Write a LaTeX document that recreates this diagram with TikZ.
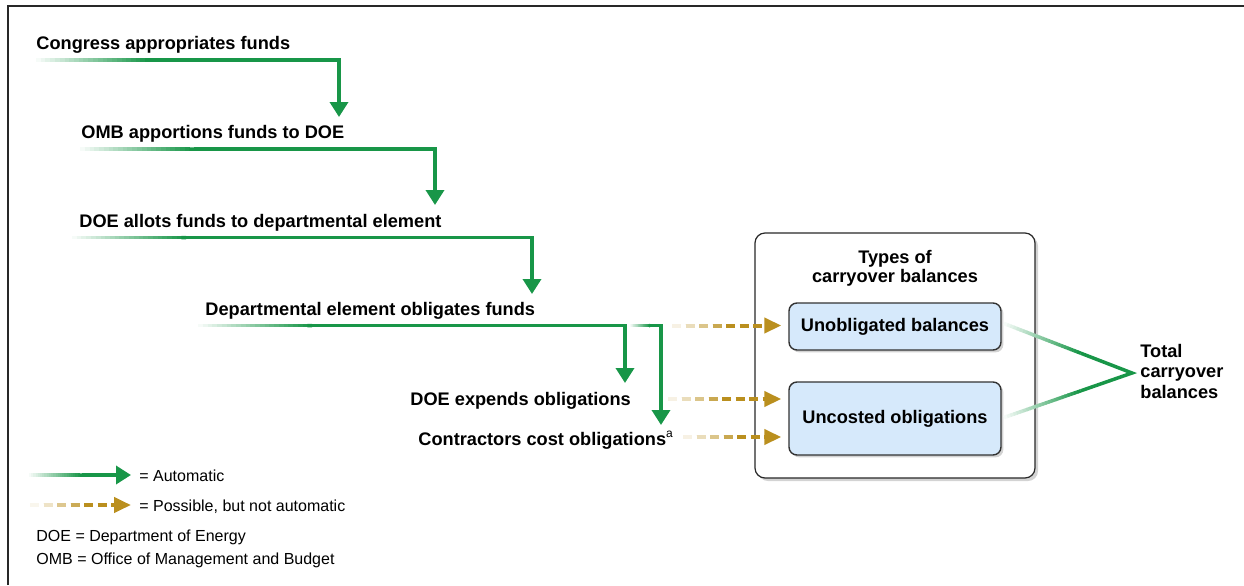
\documentclass[tikz,border=0pt]{standalone}
\usepackage{fontspec}
\setmainfont{Liberation Sans}
\usetikzlibrary{arrows.meta,calc,shadows}
\definecolor{ggreen}{RGB}{24,150,72}
\definecolor{ggold}{RGB}{186,143,30}
\definecolor{lblue}{RGB}{214,233,251}
\definecolor{frame}{RGB}{40,40,40}
% fading line drawn as short segments: #1 start, #2 end, #3 colour, #4 width
\newcommand\myfadeline[4]{%
  \foreach \i in {0,...,23}{%
    \pgfmathsetmacro\pp{4+96*\i/23}%
    \pgfmathsetmacro\aa{\i/24}%
    \pgfmathsetmacro\bb{min((\i+1.15)/24,1)}%
    \draw[#3!\pp!white, line width=#4] ($(#1)!\aa!(#2)$) -- ($(#1)!\bb!(#2)$);
  }}
\begin{document}
\begin{tikzpicture}[x=0.5pt,y=-0.5pt,
  lbl/.style={font=\fontsize{9.1pt}{10.5pt}\selectfont\bfseries, inner sep=0pt, anchor=base west},
  ctr/.style={font=\fontsize{9.1pt}{10.5pt}\selectfont\bfseries, inner sep=0pt, anchor=base},
  leg/.style={font=\fontsize{8pt}{9.5pt}\selectfont, inner sep=0pt, anchor=base west},
  gline/.style={ggreen, line width=1.75pt},
  garrow/.style={gline, -{Triangle[width=9pt,length=7.5pt]}},
  darrow/.style={ggold, line width=2pt, dash pattern=on 4.5pt off 2.25pt, -{Triangle[width=7.5pt,length=8.5pt]}},
  outerbox/.style={draw=frame, line width=0.6pt, fill=white, rounded corners=5pt,
    drop shadow={shadow xshift=1.5pt, shadow yshift=-1.5pt, opacity=0.35}},
  innerbox/.style={draw=black!80, line width=0.7pt, fill=lblue, rounded corners=4pt,
    font=\fontsize{9.1pt}{10.5pt}\selectfont\bfseries,
    drop shadow={shadow xshift=1.2pt, shadow yshift=-1.2pt, opacity=0.35}},
]
\useasboundingbox (0,0) rectangle (1244,585);
% frame (top and left)
\draw[frame, line width=0.8pt] (8,585) -- (8,6) -- (1244,6);

% labels
\node[lbl] (l1) at (36,49) {Congress appropriates funds};
\node[lbl] (l2) at (81,138) {OMB apportions funds to DOE};
\node[lbl] (l3) at (79,227) {DOE allots funds to departmental element};
\node[lbl] (l4) at (205,315) {Departmental element obligates funds};
\node[lbl] (l5) at (410,405) {DOE expends obligations};
\node[lbl] (l6) at (418,445) {Contractors cost obligations\raisebox{4pt}{\fontsize{6pt}{6pt}\selectfont\mdseries a}};

% green flow lines
\coordinate (s1) at (36,60);   \coordinate (f1) at (150,60);   \coordinate (t1) at (339,117);
\coordinate (s2) at (80,149);  \coordinate (f2) at (194,149);  \coordinate (t2) at (435,205);
\coordinate (s3) at (72,237.5);\coordinate (f3) at (186,237.5);\coordinate (t3) at (532,294);
\coordinate (s4) at (198,325.5);\coordinate (f4) at (312,325.5);\coordinate (t4) at (625,383);
\coordinate (s5) at (630,325.5);\coordinate (f5) at (650,325.5);\coordinate (t5) at (661,425);
\foreach \s/\f/\t in {s1/f1/t1,s2/f2/t2,s3/f3/t3,s4/f4/t4,s5/f5/t5}{
  \myfadeline{\s}{\f}{ggreen}{1.75pt}
  \draw[garrow] (\f) -| (\t);
}

% boxes
\node[outerbox, minimum width=140pt, minimum height=122.5pt] (ob) at (895,355.5) {};
\node[ctr] (tt1) at (895,263) {Types of};
\node[ctr] (tt2) at (895,282.5) {carryover balances};
\node[innerbox, minimum width=106pt, minimum height=23.5pt] (ub) at (895,326.5) {Unobligated balances};
\node[innerbox, minimum width=106pt, minimum height=36.5pt] (uc) at (895,418.5) {Uncosted obligations};

% dashed gold arrows
\coordinate (d1) at (672,325.5);
\coordinate (d2) at (668,399);
\coordinate (d3) at (683,437);
\draw[darrow, shorten >=3.5pt] (d1) -- (d1 -| ub.west);
\draw[darrow, shorten >=3.5pt] (d2) -- (d2 -| uc.west);
\draw[darrow, shorten >=3.5pt] (d3) -- (d3 -| uc.west);
\foreach \d in {d1,d2,d3}{
  \foreach \k/\p in {0/12,1/30,2/52,3/78}{
    \draw[ggold!\p!white, line width=2pt] ($(\d)+(\k*13.5,0)$) -- ++(9,0);
  }
}

% total carryover lines
\coordinate (p1) at (1004,323.5);
\coordinate (p2) at (1004,417.5);
\coordinate (ap) at (1132,373);
\coordinate (m1) at ($(p1)!0.6!(ap)$);
\coordinate (m2) at ($(p2)!0.6!(ap)$);
\myfadeline{p1}{m1}{ggreen}{1.75pt}
\myfadeline{p2}{m2}{ggreen}{1.75pt}
\draw[gline, line join=miter] (m1) -- (ap) -- (m2);
\node[lbl] (tc1) at (1140,357) {Total};
\node[lbl] (tc2) at (1140,377.5) {carryover};
\node[lbl] (tc3) at (1140,398) {balances};

% legend
\coordinate (ls1) at (29,475); \coordinate (lf1) at (82,475); \coordinate (lt1) at (131,475);
\myfadeline{ls1}{lf1}{ggreen}{1.75pt}
\draw[garrow] (lf1) -- (lt1);
\node[leg] (la) at (139,481) {= Automatic};
\coordinate (ls2) at (30,505); \coordinate (lt2) at (131,505);
\draw[darrow] (ls2) -- (lt2);
\foreach \k/\p in {0/8,1/25,2/50,3/75}{
  \draw[ggold!\p!white, line width=2pt] ($(ls2)+(\k*13.5,0)$) -- ++(9,0);
}
\node[leg] (lb) at (139,511) {= Possible, but not automatic};
\node[leg] (lc) at (36,541) {DOE = Department of Energy};
\node[leg] (ld) at (36,564) {OMB = Office of Management and Budget};
\end{tikzpicture}
\end{document}
